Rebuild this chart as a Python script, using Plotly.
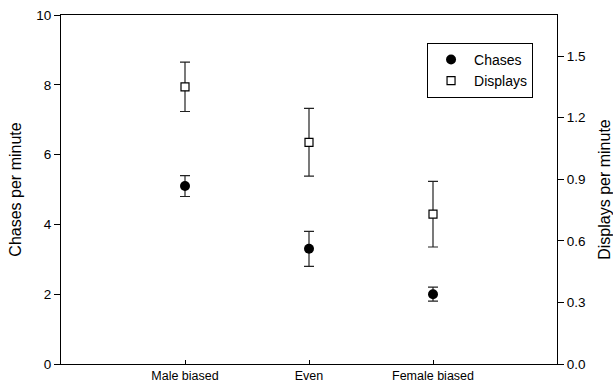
import plotly.graph_objects as go

categories = ["Male biased", "Even", "Female biased"]
cat_pos = [1, 2, 3]
chases = [5.1, 3.3, 2.0]
chases_err = [0.3, 0.5, 0.2]
displays = [1.35, 1.08, 0.73]
displays_err = [0.12, 0.165, 0.16]

left_ticks = [0, 2, 4, 6, 8, 10]
right_ticks = [0.0, 0.3, 0.6, 0.9, 1.2, 1.5]

font = "Liberation Sans, Arial, sans-serif"

fig = go.Figure()
fig.add_trace(go.Scatter(
    x=cat_pos, y=chases, mode="markers", name="Chases",
    marker=dict(symbol="circle", size=10, color="black"),
    error_y=dict(type="data", array=chases_err, color="#222", thickness=1.2, width=5),
    yaxis="y",
))
fig.add_trace(go.Scatter(
    x=cat_pos, y=displays, mode="markers", name="Displays",
    marker=dict(symbol="square", size=8, color="white", line=dict(color="black", width=1.2)),
    error_y=dict(type="data", array=displays_err, color="#222", thickness=1.2, width=5),
    yaxis="y2",
))

fig.update_layout(
    width=613, height=390,
    margin=dict(l=61, r=56, t=15, b=26, autoexpand=False),
    paper_bgcolor="white", plot_bgcolor="white",
    font=dict(family=font, size=13, color="black"),
    showlegend=True,
    legend=dict(
        x=0.738, y=0.92, xanchor="left", yanchor="top",
        bordercolor="black", borderwidth=1, bgcolor="white",
        font=dict(size=14), itemwidth=36, tracegroupgap=0,
    ),
    xaxis=dict(
        range=[0, 4], tickvals=cat_pos, ticktext=categories,
        showline=True, linecolor="black", linewidth=1, mirror=True,
        ticks="inside", ticklen=4, tickcolor="black", showgrid=False, zeroline=False,
        tickfont=dict(size=12.5), automargin=False,
    ),
    yaxis=dict(
        range=[0, 10], tickvals=left_ticks,
        showline=True, linecolor="black", linewidth=1,
        ticks="outside", ticklen=6, tickcolor="black", showgrid=False, zeroline=False,
        title=dict(text="Chases per minute", font=dict(size=16), standoff=10),
        tickfont=dict(size=13.5), automargin=False,
    ),
    yaxis2=dict(
        range=[0, 1.7], tickvals=right_ticks, tickformat=".1f",
        overlaying="y", side="right",
        showline=True, linecolor="black", linewidth=1,
        ticks="outside", ticklen=6, tickcolor="black", showgrid=False, zeroline=False,
        title=dict(text="Displays per minute", font=dict(size=16), standoff=21),
        tickfont=dict(size=13.5), automargin=False,
    ),
)

fig.write_html("out.html")
